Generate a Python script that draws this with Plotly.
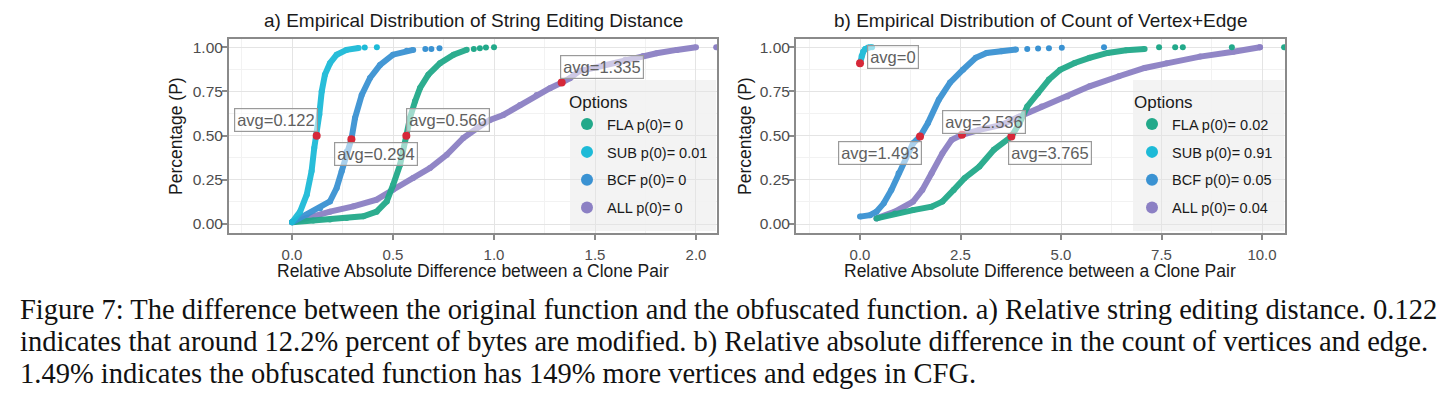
import plotly.graph_objects as go

W, H = 1444, 399

# ---------------- data ----------------
series_names = ["FLA", "SUB", "BCF", "ALL"]
legend_a = ["FLA p(0)= 0", "SUB p(0)= 0.01", "BCF p(0)= 0", "ALL p(0)= 0"]
legend_b = ["FLA p(0)= 0.02", "SUB p(0)= 0.91", "BCF p(0)= 0.05", "ALL p(0)= 0.04"]

# panel a: string editing distance
a_fla_x = [0, 0.105, 0.188, 0.27, 0.353, 0.419, 0.469, 0.50, 0.535, 0.566, 0.584, 0.609, 0.634, 0.675, 0.733, 0.80, 0.865]
a_fla_y = [0.01, 0.02, 0.025, 0.034, 0.044, 0.07, 0.128, 0.22, 0.336, 0.50, 0.60, 0.694, 0.77, 0.845, 0.91, 0.958, 0.986]
a_fla_tail_x = [0.90, 0.93, 0.96, 1.0]
a_fla_tail_y = [0.99, 0.995, 0.998, 1.0]

a_sub_x = [0, 0.04, 0.073, 0.097, 0.11, 0.122, 0.135, 0.147, 0.163, 0.188, 0.221, 0.27, 0.33]
a_sub_y = [0.01, 0.07, 0.166, 0.30, 0.43, 0.50, 0.62, 0.75, 0.845, 0.91, 0.958, 0.985, 0.996]
a_sub_tail_x = [0.36, 0.42]
a_sub_tail_y = [0.998, 1.0]

a_bcf_x = [0, 0.073, 0.139, 0.188, 0.221, 0.246, 0.271, 0.294, 0.312, 0.345, 0.386, 0.436, 0.50, 0.568, 0.60]
a_bcf_y = [0.01, 0.053, 0.09, 0.128, 0.204, 0.298, 0.41, 0.48, 0.60, 0.73, 0.826, 0.90, 0.958, 0.98, 0.985]
a_bcf_tail_x = [0.66, 0.69, 0.73]
a_bcf_tail_y = [0.99, 0.99, 0.995]

a_all_x = [0, 0.073, 0.188, 0.304, 0.419, 0.50, 0.60, 0.683, 0.766, 0.848, 0.93, 0.98, 1.046, 1.129, 1.211,
           1.277, 1.335, 1.376, 1.42, 1.55, 1.65, 1.739, 1.805, 1.905, 2.0]
a_all_y = [0.01, 0.034, 0.07, 0.10, 0.138, 0.194, 0.26, 0.317, 0.392, 0.487, 0.553, 0.589, 0.617, 0.673, 0.73,
           0.768, 0.80, 0.825, 0.864, 0.90, 0.93, 0.95, 0.966, 0.985, 1.0]
a_all_tail_x = [2.10]
a_all_tail_y = [1.0]

a_avg_x = [0.122, 0.294, 0.566, 1.335]
a_avg_y = [0.50, 0.48, 0.50, 0.80]
a_avg_text = ["avg=0.122", "avg=0.294", "avg=0.566", "avg=1.335"]

# panel b: count of vertex+edge
b_fla_x = [0.41, 0.87, 1.32, 1.78, 2.05, 2.33, 2.60, 2.97, 3.33, 3.765, 3.97, 4.16, 4.43, 4.70, 4.98, 5.34, 5.71, 6.16, 6.62, 7.08]
b_fla_y = [0.032, 0.06, 0.079, 0.098, 0.127, 0.193, 0.259, 0.325, 0.42, 0.495, 0.571, 0.665, 0.741, 0.817, 0.873, 0.911, 0.94, 0.968, 0.983, 0.99]
b_fla_tail_x = [7.44, 7.84, 8.03, 9.25, 10.55]
b_fla_tail_y = [1.0, 1.0, 1.0, 1.0, 1.0]

b_sub_x = [0, 0.04, 0.08, 0.13, 0.2, 0.25]
b_sub_y = [0.91, 0.95, 0.975, 0.99, 0.998, 1.0]
b_sub_tail_x = [0.3]
b_sub_tail_y = [1.0]

b_bcf_x = [0, 0.25, 0.41, 0.59, 0.78, 0.96, 1.14, 1.32, 1.493, 1.69, 1.96, 2.24, 2.56, 2.88, 3.15, 3.52, 3.88]
b_bcf_y = [0.042, 0.05, 0.07, 0.117, 0.193, 0.287, 0.38, 0.457, 0.495, 0.571, 0.703, 0.80, 0.873, 0.94, 0.968, 0.977, 0.987]
b_bcf_tail_x = [4.16, 4.43, 4.70, 5.02, 6.07]
b_bcf_tail_y = [0.99, 0.993, 0.995, 0.997, 1.0]

b_all_x = [0.41, 0.87, 1.32, 1.55, 1.78, 2.05, 2.28, 2.536, 2.97, 3.52, 3.97, 4.52, 5.16, 5.71, 6.44, 7.08, 7.63, 8.46, 9.29, 9.95]
b_all_y = [0.032, 0.07, 0.127, 0.193, 0.287, 0.40, 0.476, 0.505, 0.533, 0.561, 0.609, 0.665, 0.722, 0.779, 0.836, 0.883, 0.909, 0.947, 0.975, 1.0]
b_all_tail_x = [9.95]
b_all_tail_y = [1.0]

b_avg_x = [0.0, 1.493, 2.536, 3.765]
b_avg_y = [0.91, 0.495, 0.505, 0.495]
b_avg_text = ["avg=0", "avg=1.493", "avg=2.536", "avg=3.765"]

x_ticks_a = [0.0, 0.5, 1.0, 1.5, 2.0]
x_ticks_b = [0.0, 2.5, 5.0, 7.5, 10.0]
y_ticks = [0.0, 0.25, 0.5, 0.75, 1.0]

titles = ["a) Empirical Distribution of String Editing Distance",
          "b) Empirical Distribution of Count of Vertex+Edge"]
x_title = "Relative Absolute Difference between a Clone Pair"
y_title = "Percentage (P)"
caption_lines = [
    "Figure 7: The difference between the original function and the obfuscated function. a) Relative string editing distance. 0.122",
    "indicates that around 12.2% percent of bytes are modified. b) Relative absolute difference in the count of vertices and edge.",
    "1.49% indicates the obfuscated function has 149% more vertices and edges in CFG.",
]

# ---------------- style / layout ----------------
colors = {"FLA": "#22A98A", "SUB": "#1DBAD7", "BCF": "#3A92D2", "ALL": "#8C80C4"}
red = "#D62839"
SANS = "Liberation Sans, Arial, sans-serif"
SERIF = "Liberation Serif, Times New Roman, serif"


def px_x(p):
    return p / W


def px_y(p):
    return 1 - p / H


dom_a = [px_x(229), px_x(717)]
dom_b = [px_x(796), px_x(1285)]
dom_y = [px_y(232.7), px_y(39.3)]

fig = go.Figure()

panels = [
    ("x", "y", "legend",
     [(a_fla_x, a_fla_y, a_fla_tail_x, a_fla_tail_y),
      (a_sub_x, a_sub_y, a_sub_tail_x, a_sub_tail_y),
      (a_bcf_x, a_bcf_y, a_bcf_tail_x, a_bcf_tail_y),
      (a_all_x, a_all_y, a_all_tail_x, a_all_tail_y)],
     legend_a, a_avg_x, a_avg_y),
    ("x2", "y2", "legend2",
     [(b_fla_x, b_fla_y, b_fla_tail_x, b_fla_tail_y),
      (b_sub_x, b_sub_y, b_sub_tail_x, b_sub_tail_y),
      (b_bcf_x, b_bcf_y, b_bcf_tail_x, b_bcf_tail_y),
      (b_all_x, b_all_y, b_all_tail_x, b_all_tail_y)],
     legend_b, b_avg_x, b_avg_y),
]

draw_order = [3, 0, 2, 1]
for xa, ya, lg, curves, labels, avx, avy in panels:
    for i in draw_order:
        name = series_names[i]
        cx, cy, tx, ty = curves[i]
        c = colors[name]
        fig.add_trace(go.Scatter(x=cx, y=cy, mode="lines+markers", xaxis=xa, yaxis=ya,
                                 line=dict(color=c, width=6), marker=dict(color=c, size=6),
                                 opacity=0.95, showlegend=False, hoverinfo="skip"))
    for i in range(4):
        name = series_names[i]
        cx, cy, tx, ty = curves[i]
        c = colors[name]
        fig.add_trace(go.Scatter(x=tx, y=ty, mode="markers", xaxis=xa, yaxis=ya,
                                 marker=dict(color=c, size=6), name=labels[i],
                                 legend=lg, legendgroup=lg + name, showlegend=True))
    fig.add_trace(go.Scatter(x=avx, y=avy, mode="markers", xaxis=xa, yaxis=ya,
                             marker=dict(color=red, size=8), showlegend=False))

# avg labels (positions of the text boxes in data coords)
label_pos_a = [(-0.078, 0.589), (0.417, 0.396), (0.772, 0.59), (1.533, 0.888)]
label_pos_b = [(0.81, 0.944), (0.49, 0.40), (3.08, 0.58), (4.72, 0.40)]
annotations = []
for (xr, yr), texts, pos in [(("x", "y"), a_avg_text, label_pos_a), (("x2", "y2"), b_avg_text, label_pos_b)]:
    for t, (lx, ly) in zip(texts, pos):
        annotations.append(dict(x=lx, y=ly, xref=xr, yref=yr, text=t, showarrow=False,
                                font=dict(family=SANS, size=16.5, color="#606060"),
                                bgcolor="rgba(255,255,255,0.55)", bordercolor="#9a9a9a",
                                borderwidth=1.2, borderpad=2))

for t, cx in zip(titles, [473, 1040]):
    annotations.append(dict(x=px_x(cx), y=px_y(20), xref="paper", yref="paper", text=t,
                            showarrow=False, font=dict(family=SANS, size=19, color="#1a1a1a"),
                            xanchor="center", yanchor="middle"))
for cx in [473, 1040]:
    annotations.append(dict(x=px_x(cx), y=px_y(270.5), xref="paper", yref="paper", text=x_title,
                            showarrow=False, font=dict(family=SANS, size=17.5, color="#1a1a1a"),
                            xanchor="center", yanchor="middle"))
for cx in [176, 745]:
    annotations.append(dict(x=px_x(cx), y=px_y(136), xref="paper", yref="paper", text=y_title,
                            showarrow=False, textangle=-90,
                            font=dict(family=SANS, size=17.5, color="#1a1a1a"),
                            xanchor="center", yanchor="middle"))
for t, by in zip(caption_lines, [319, 350.5, 382]):
    annotations.append(dict(x=px_x(18), y=px_y(by - 9), xref="paper", yref="paper", text=t,
                            showarrow=False, font=dict(family=SERIF, size=28.5, color="#111111"),
                            xanchor="left", yanchor="middle"))

shapes = []
for x0, x1 in [(570, 716), (1133, 1284)]:
    shapes.append(dict(type="rect", xref="paper", yref="paper", x0=px_x(x0), x1=px_x(x1),
                       y0=px_y(231), y1=px_y(80), fillcolor="rgba(242,242,242,0.9)",
                       line=dict(width=0), layer="between"))

axis_common = dict(showline=True, mirror=True, linecolor="#8a8a8a", linewidth=2,
                   ticks="outside", tickcolor="#8a8a8a", tickwidth=1.5,
                   showgrid=True, gridcolor="#E4E4E4", gridwidth=1, zeroline=False)
xtick = dict(ticklen=5, ticklabelstandoff=2, tickfont=dict(family=SANS, size=15, color="#4d4d4d"))
ytick = dict(ticklen=5, ticklabelstandoff=-4, tickfont=dict(family=SANS, size=15.5, color="#4d4d4d"))

legend_common = dict(xanchor="left", yanchor="top", bgcolor="rgba(0,0,0,0)",
                     tracegroupgap=6, itemsizing="constant", itemwidth=30,
                     title=dict(text="Options", font=dict(family=SANS, size=17, color="#1a1a1a")),
                     font=dict(family=SANS, size=14.5, color="#1a1a1a"))

fig.update_layout(
    width=W, height=H,
    margin=dict(l=0, r=0, t=0, b=0),
    paper_bgcolor="white", plot_bgcolor="white",
    showlegend=True,
    xaxis=dict(domain=dom_a, range=[-0.312, 2.104], tickvals=x_ticks_a,
               ticktext=[f"{v:.1f}" for v in x_ticks_a], anchor="y",
               minor=dict(dtick=0.25, tick0=0.25, showgrid=True, gridcolor="#F2F2F2", ticks=""),
               **axis_common, **xtick),
    yaxis=dict(domain=dom_y, range=[-0.049, 1.045], tickvals=y_ticks,
               ticktext=[f"{v:.2f}" for v in y_ticks], anchor="x",
               minor=dict(dtick=0.125, tick0=0.125, showgrid=True, gridcolor="#F2F2F2", ticks=""),
               **axis_common, **ytick),
    xaxis2=dict(domain=dom_b, range=[-1.592, 10.572], tickvals=x_ticks_b,
                ticktext=[f"{v:.1f}" for v in x_ticks_b], anchor="y2",
                minor=dict(dtick=1.25, tick0=1.25, showgrid=True, gridcolor="#F2F2F2", ticks=""),
                **axis_common, **xtick),
    yaxis2=dict(domain=dom_y, range=[-0.049, 1.045], tickvals=y_ticks,
                ticktext=[f"{v:.2f}" for v in y_ticks], anchor="x2",
                minor=dict(dtick=0.125, tick0=0.125, showgrid=True, gridcolor="#F2F2F2", ticks=""),
                **axis_common, **ytick),
    legend=dict(x=px_x(567), y=px_y(86), **legend_common),
    legend2=dict(x=px_x(1132), y=px_y(86), **legend_common),
    annotations=annotations,
    shapes=shapes,
)

fig.write_html("out.html", config={"displayModeBar": False},
               post_script="document.body.style.margin='0px';")
